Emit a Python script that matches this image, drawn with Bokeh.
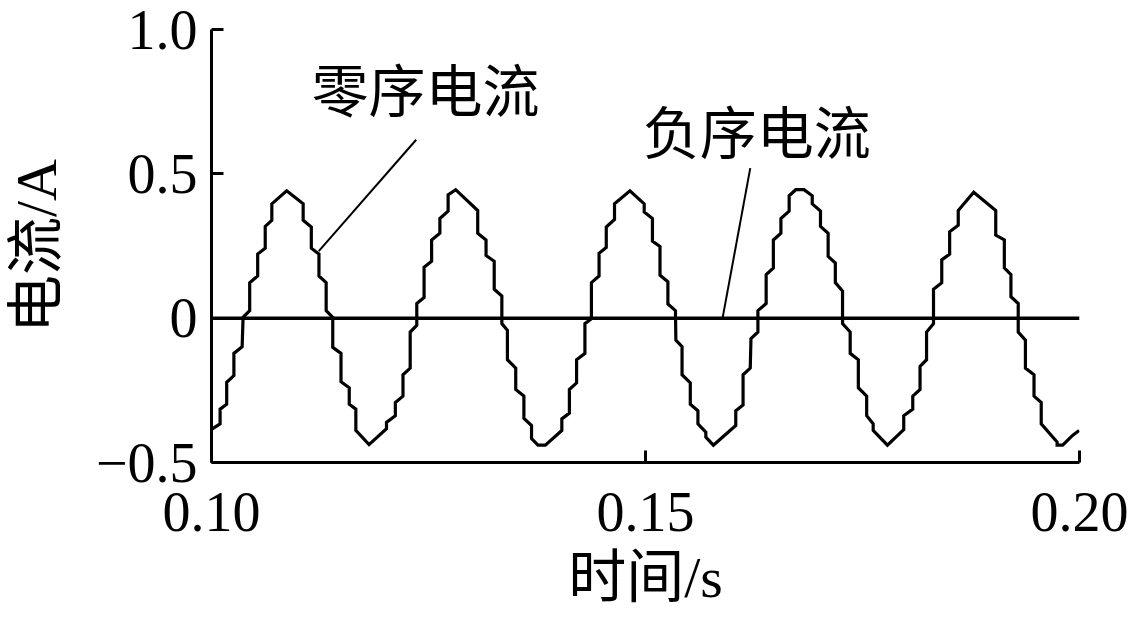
from bokeh.plotting import figure
from bokeh.models import Range1d, FixedTicker, Label
from bokeh.embed import file_html
from bokeh.resources import INLINE

# ---------------- data ----------------
# zero-sequence current: vertices of the stepped trace (time offset from 0.1 s in ms, current in A)
zero_t_ms = [
    0.00, 0.99, 0.99, 1.75, 1.75, 2.58, 2.58, 3.53, 3.64, 4.40,
    4.40, 5.32, 5.32, 6.19, 6.19, 6.95, 6.95, 8.66, 10.56, 10.56,
    11.50, 11.50, 12.38, 12.38, 13.21, 13.21, 13.97, 13.97, 14.92, 14.92,
    15.87, 15.87, 16.63, 16.63, 18.15, 20.16, 20.16, 21.18, 21.18, 22.06,
    22.06, 22.89, 22.89, 23.65, 23.65, 24.49, 24.49, 25.36, 25.36, 26.31,
    26.31, 27.26, 27.26, 28.13, 30.67, 30.67, 31.63, 31.63, 32.57, 32.57,
    33.45, 33.45, 34.09, 34.09, 35.05, 35.05, 35.99, 35.99, 36.87, 36.87,
    37.62, 38.46, 40.36, 40.36, 41.23, 41.23, 42.06, 42.06, 43.02, 43.02,
    43.77, 43.77, 44.65, 44.65, 45.48, 45.48, 46.43, 46.43, 48.21, 49.85,
    49.85, 50.80, 50.80, 51.67, 51.67, 52.58, 52.58, 53.45, 53.50, 54.21,
    54.21, 55.16, 55.16, 56.04, 56.04, 56.95, 56.95, 57.82, 60.40, 60.40,
    61.24, 61.24, 62.07, 62.15, 62.95, 62.95, 63.90, 63.90, 64.73, 64.73,
    65.60, 65.60, 66.55, 66.55, 67.31, 68.26, 69.21, 69.21, 70.16, 70.16,
    71.04, 71.04, 71.87, 71.87, 72.70, 72.70, 73.58, 73.58, 74.52, 74.52,
    75.48, 75.48, 76.23, 76.23, 77.87, 79.75, 79.75, 80.79, 80.79, 81.63,
    81.63, 82.38, 82.38, 83.18, 83.18, 84.13, 84.13, 85.04, 85.04, 86.03,
    86.03, 87.81, 90.35, 90.35, 91.34, 91.34, 92.10, 92.10, 92.94, 92.94,
    93.77, 93.77, 94.76, 94.76, 95.59, 95.59, 97.42, 97.42, 98.06, 99.20,
    99.96,
]
zero_i = [
    -0.385, -0.366, -0.315, -0.298, -0.222, -0.199, -0.122, -0.099, 0.003, 0.026,
    0.123, 0.146, 0.222, 0.242, 0.318, 0.339, 0.396, 0.441, 0.396, 0.339,
    0.316, 0.242, 0.222, 0.146, 0.123, 0.026, 0.003, -0.101, -0.122, -0.220,
    -0.241, -0.298, -0.315, -0.389, -0.438, -0.383, -0.361, -0.338, -0.292, -0.270,
    -0.196, -0.173, -0.048, -0.025, 0.051, 0.072, 0.176, 0.197, 0.271, 0.294,
    0.345, 0.371, 0.427, 0.445, 0.373, 0.294, 0.271, 0.217, 0.197, 0.100,
    0.077, -0.019, -0.042, -0.144, -0.173, -0.247, -0.270, -0.347, -0.372, -0.417,
    -0.440, -0.440, -0.389, -0.349, -0.329, -0.247, -0.224, -0.144, -0.122, -0.019,
    -0.002, 0.123, 0.146, 0.225, 0.245, 0.316, 0.342, 0.396, 0.441, 0.396,
    0.368, 0.345, 0.267, 0.248, 0.149, 0.126, 0.049, 0.026, -0.076, -0.099,
    -0.196, -0.224, -0.298, -0.321, -0.366, -0.395, -0.412, -0.440, -0.372, -0.321,
    -0.301, -0.196, -0.173, -0.071, -0.048, 0.026, 0.051, 0.151, 0.174, 0.271,
    0.294, 0.345, 0.371, 0.424, 0.445, 0.445, 0.424, 0.396, 0.371, 0.318,
    0.294, 0.214, 0.191, 0.123, 0.094, -0.019, -0.048, -0.122, -0.144, -0.241,
    -0.270, -0.338, -0.366, -0.389, -0.440, -0.386, -0.338, -0.315, -0.270, -0.247,
    -0.167, -0.144, -0.048, -0.019, 0.100, 0.123, 0.202, 0.222, 0.299, 0.322,
    0.373, 0.436, 0.373, 0.288, 0.271, 0.174, 0.151, 0.074, 0.051, -0.048,
    -0.076, -0.173, -0.196, -0.270, -0.292, -0.366, -0.429, -0.440, -0.440, -0.406,
    -0.389,
]
t0 = 0.10
zero_t = [t0 + v / 1000.0 for v in zero_t_ms]

# negative-sequence current: flat at zero over the window
neg_t = [0.10, 0.20]
neg_i = [0.0, 0.0]

x_ticks = [0.10, 0.15, 0.20]
x_tick_labels = ["0.10", "0.15", "0.20"]
y_ticks = [-0.5, 0.0, 0.5, 1.0]
y_tick_labels = ["\u22120.5", "0", "0.5", "1.0"]

x_title = "时间/s"
y_title = "电流/A"
label_zero = "零序电流"
label_neg = "负序电流"

# ---------------- figure ----------------
SERIF = "Liberation Serif"
LAT = "'Liberation Serif', 'Noto Sans CJK SC'"
CJK = "'Noto Sans CJK SC'"

p = figure(width=1130, height=612, output_backend="svg", toolbar_location=None,
           x_range=Range1d(0.10, 0.20), y_range=Range1d(-0.5, 1.0),
           min_border_left=201, min_border_right=51, min_border_top=29,
           min_border_bottom=149)
p.outline_line_color = None
p.grid.visible = False
p.background_fill_color = "white"
p.border_fill_color = "white"

# traces
p.line(neg_t, neg_i, line_color="black", line_width=3.5)
p.line(zero_t, zero_i, line_color="black", line_width=3.2, line_join="miter")

# axes
for ax in (p.xaxis[0], p.yaxis[0]):
    ax.axis_line_width = 3
    ax.axis_line_color = "black"
    ax.major_tick_in = 12
    ax.major_tick_out = 0
    ax.major_tick_line_width = 3
    ax.major_tick_line_color = "black"
    ax.minor_tick_line_color = None
    ax.major_label_text_font = SERIF
    ax.major_label_text_font_size = "56px"
    ax.major_label_text_color = "black"
    ax.axis_label_text_font = LAT
    ax.axis_label_text_font_size = "58px"
    ax.axis_label_text_font_style = "normal"
    ax.axis_label_text_color = "black"

p.xaxis.ticker = FixedTicker(ticks=x_ticks)
p.xaxis.major_label_overrides = dict(zip(x_ticks, x_tick_labels))
p.xaxis.major_label_standoff = 30
p.xaxis.axis_label = x_title
p.xaxis.axis_label_standoff = 11

p.yaxis.ticker = FixedTicker(ticks=y_ticks)
p.yaxis.major_label_overrides = dict(zip(y_ticks, y_tick_labels))
p.yaxis.major_label_standoff = 14
p.yaxis.axis_label = y_title
p.yaxis.axis_label_standoff = 24

# annotations with leader lines
p.segment(x0=[0.12358, 0.16207], y0=[0.618, 0.52],
          x1=[0.11236, 0.15888], y1=[0.232, 0.0],
          line_color="black", line_width=2)
p.add_layout(Label(x=0.12466, y=0.80, text=label_zero, text_align="center",
                   text_baseline="middle", text_font=CJK, text_font_size="57px",
                   text_color="black"))
p.add_layout(Label(x=0.16281, y=0.656, text=label_neg, text_align="center",
                   text_baseline="middle", text_font=CJK, text_font_size="57px",
                   text_color="black"))

open("out.html", "w").write(file_html(p, INLINE))
